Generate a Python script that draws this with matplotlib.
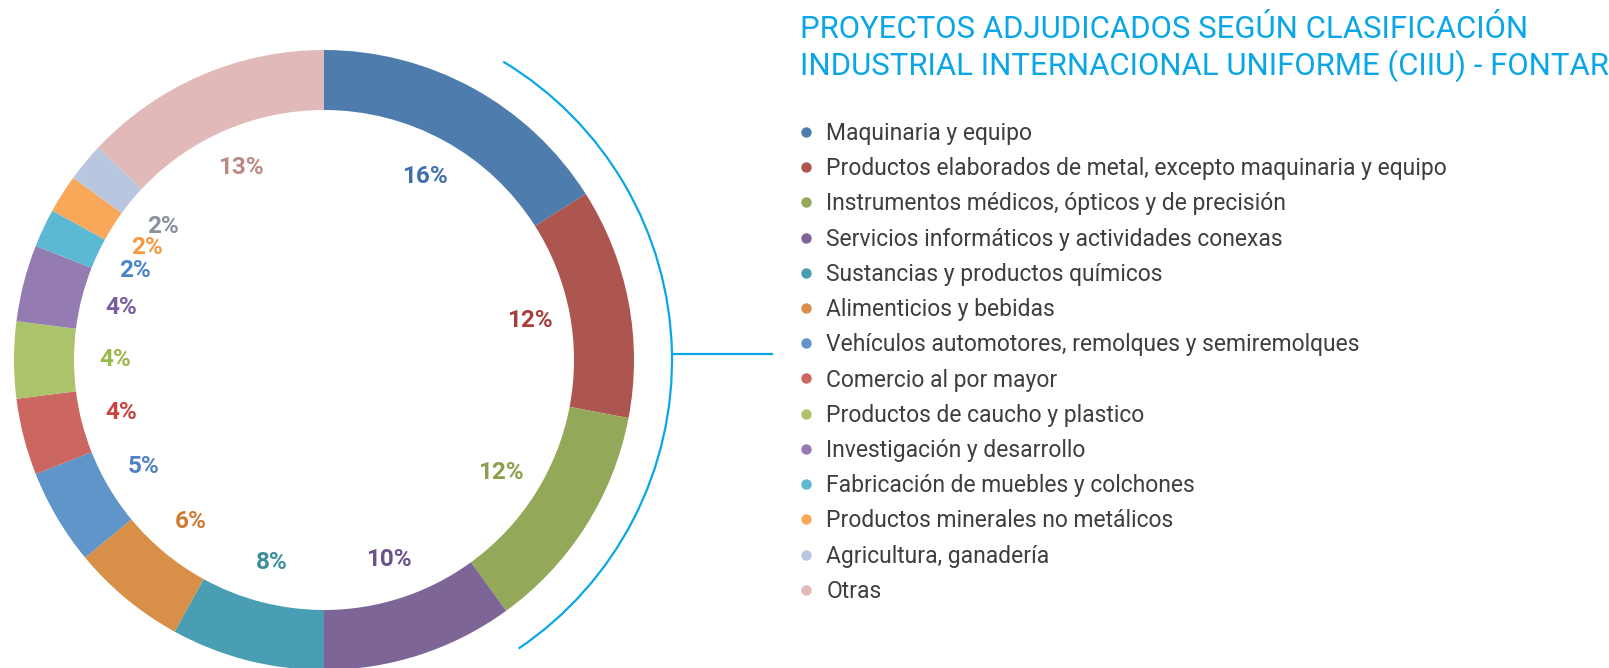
import matplotlib
matplotlib.use("Agg")
import matplotlib.pyplot as plt
from matplotlib.patches import Arc
from matplotlib.lines import Line2D

W, H = 1609, 668

categories = [
    "Maquinaria y equipo",
    "Productos elaborados de metal, excepto maquinaria y equipo",
    "Instrumentos médicos, ópticos y de precisión",
    "Servicios informáticos y actividades conexas",
    "Sustancias y productos químicos",
    "Alimenticios y bebidas",
    "Vehículos automotores, remolques y semiremolques",
    "Comercio al por mayor",
    "Productos de caucho y plastico",
    "Investigación y desarrollo",
    "Fabricación de muebles y colchones",
    "Productos minerales no metálicos",
    "Agricultura, ganadería",
    "Otras",
]
values = [16, 12, 12, 10, 8, 6, 5, 4, 4, 4, 2, 2, 2, 13]

colors = ["#4E7DAD", "#AD5650", "#93A859", "#7D6697", "#4A9EB3", "#D88F47",
          "#5F95C9", "#CB6660", "#ABC46C", "#947CB2", "#5BB9D3", "#F9A85A",
          "#B8C6E0", "#E0B9B8"]
label_colors = ["#3F6FAD", "#A63F3B", "#8AA04A", "#6C528A", "#3B8E9E", "#D07B32",
                "#4F82C2", "#C9443F", "#9BB84A", "#7A5B9C", "#4A84CF", "#F29A40",
                "#8A909E", "#BA8A85"]

title = "PROYECTOS ADJUDICADOS SEGÚN CLASIFICACIÓN\nINDUSTRIAL INTERNACIONAL UNIFORME (CIIU) - FONTAR"
accent = "#0AA6E6"

fig = plt.figure(figsize=(W / 100, H / 100), dpi=100)
ax = fig.add_axes([0, 0, 1, 1])

cx, cy, R, ring = 324, H - 360, 310, 60
wedges, texts, autotexts = ax.pie(
    values, colors=colors, startangle=90, counterclock=False,
    center=(cx, cy), radius=R,
    wedgeprops=dict(width=ring, edgecolor="none", linewidth=0),
    autopct=lambda p: f"{p:.0f}%", pctdistance=0.675,
    textprops=dict(fontfamily="Roboto", fontweight="bold", fontsize=17.5),
)
for t, c in zip(autotexts, label_colors):
    t.set_color(c)

ax.set_xlim(0, W)
ax.set_ylim(0, H)
ax.set_aspect("auto")
ax.axis("off")

# bracket arc and connector
ax.add_patch(Arc((cx, cy), 2 * 348, 2 * 348, theta1=-56, theta2=59,
                 color=accent, lw=1.6))
ax.plot([672, 773], [H - 354, H - 354], color=accent, lw=1.6,
        solid_capstyle="butt")

fig.text(800 / W, 1 - 15 / H, title, color=accent, fontfamily="Roboto",
         fontweight="normal", fontsize=22.4, va="top", ha="left", linespacing=1.2)

handles = [Line2D([], [], marker="o", ls="", color=c, markersize=6.5) for c in colors]
leg = fig.legend(handles, categories, loc="upper left",
                 bbox_to_anchor=(796 / W, 1 - 122 / H), frameon=False,
                 prop=dict(family="Roboto", weight="normal", size=16.5),
                 labelcolor="#3E3E3E", handlelength=0.88, handletextpad=0.45,
                 labelspacing=0.533, borderpad=0, borderaxespad=0)

fig.savefig("out.png", dpi=100)
